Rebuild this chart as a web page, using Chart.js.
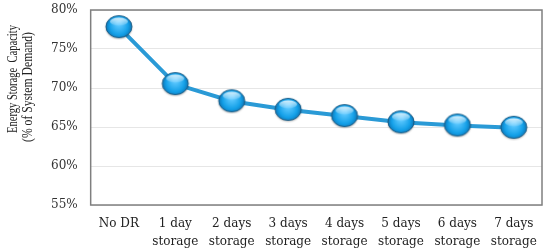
<!DOCTYPE html>
<html>
<head>
<meta charset="utf-8">
<script src="https://cdn.jsdelivr.net/npm/chart.js@4.4.1/dist/chart.umd.min.js"></script>
<style>
  html, body { margin: 0; padding: 0; background: #fff; }
  #wrap { width: 550px; height: 250px; }
</style>
</head>
<body>
<div id="wrap"><canvas id="grafico"></canvas></div>
<script>
// --- DATOS ---
const categorias = [
    'No DR',
    ['1 day', 'storage'],
    ['2 days', 'storage'],
    ['3 days', 'storage'],
    ['4 days', 'storage'],
    ['5 days', 'storage'],
    ['6 days', 'storage'],
    ['7 days', 'storage']
];
const capacidad = [77.8, 70.5, 68.3, 67.2, 66.4, 65.6, 65.2, 64.9];
const ejeY = { min: 55, max: 80, paso: 5 };
const tituloY = ['Energy Storage  Capacity', '(% of System Demand)'];

// --- MARCADOR (elipse azul con brillo) ---
function crearMarcador() {
    const c = document.createElement('canvas');
    c.width = 30; c.height = 26;
    const ctx = c.getContext('2d');
    ctx.save();
    ctx.shadowColor = 'rgba(0,0,0,0.35)';
    ctx.shadowBlur = 2;
    ctx.shadowOffsetY = 1;
    ctx.beginPath();
    ctx.ellipse(15, 12.5, 13, 11, 0, 0, Math.PI * 2);
    const g = ctx.createRadialGradient(15, 9, 2, 15, 13, 14);
    g.addColorStop(0, '#5cc8ff');
    g.addColorStop(0.6, '#14a0e8');
    g.addColorStop(1, '#0a6aa8');
    ctx.fillStyle = g;
    ctx.fill();
    ctx.restore();
    ctx.lineWidth = 1;
    ctx.strokeStyle = '#1d5d86';
    ctx.stroke();
    // brillo superior
    ctx.beginPath();
    ctx.ellipse(15, 7.5, 9, 4, 0, 0, Math.PI * 2);
    const b = ctx.createLinearGradient(0, 3, 0, 12);
    b.addColorStop(0, 'rgba(255,255,255,0.85)');
    b.addColorStop(1, 'rgba(255,255,255,0.05)');
    ctx.fillStyle = b;
    ctx.fill();
    return c;
}

// marco completo alrededor del área + título del eje Y (algo por encima del centro)
const marco = {
    id: 'marco',
    afterDraw(chart) {
        const a = chart.chartArea, ctx = chart.ctx;
        ctx.save();
        ctx.strokeStyle = '#7f7f7f';
        ctx.lineWidth = 1.5;
        ctx.strokeRect(a.left, a.top, a.right - a.left, a.bottom - a.top);
        ctx.restore();

        ctx.save();
        ctx.rotate(-Math.PI / 2);
        ctx.fillStyle = '#222';
        ctx.font = '14px "Liberation Serif", serif';
        ctx.textAlign = 'center';
        ctx.textBaseline = 'middle';
        ctx.fillText(tituloY[0], -79, 13, 108);
        ctx.fillText(tituloY[1], -87, 28, 110);
        ctx.restore();
    }
};

const fuente = { family: '"DejaVu Serif", serif', size: 12 };

new Chart(document.getElementById('grafico'), {
    type: 'line',
    data: {
        labels: categorias,
        datasets: [{
            data: capacidad,
            borderColor: '#2a9ad6',
            borderWidth: 4,
            pointStyle: crearMarcador(),
            tension: 0
        }]
    },
    options: {
        responsive: true,
        maintainAspectRatio: false,
        animation: false,
        layout: { padding: { top: 10, right: 3, left: 38, bottom: 0 } },
        plugins: { legend: { display: false }, tooltip: { enabled: false } },
        scales: {
            x: {
                offset: true,
                grid: { display: false },
                border: { display: false },
                ticks: { color: '#222', font: { family: '"DejaVu Serif", serif', size: 12, lineHeight: 1.5 }, maxRotation: 0, padding: 2 },
                afterFit: s => { s.height = 45; }
            },
            y: {
                min: ejeY.min,
                max: ejeY.max,
                ticks: {
                    stepSize: ejeY.paso,
                    color: '#333',
                    font: fuente,
                    padding: 13,
                    callback: v => v + '%'
                },
                grid: { color: '#e6e6e6', drawTicks: false },
                border: { display: false },
                afterFit: s => { s.paddingTop = 0; s.paddingBottom = 0; }
            }
        }
    },
    plugins: [marco]
});
</script>
</body>
</html>
